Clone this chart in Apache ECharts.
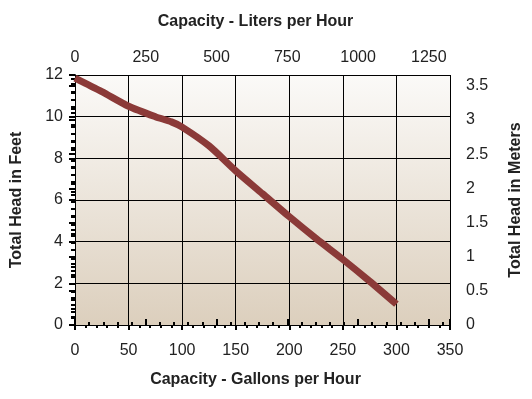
<!DOCTYPE html>
<html>
<head>
<meta charset="utf-8">
<script src="https://cdn.jsdelivr.net/npm/echarts@6/dist/echarts.min.js"></script>
<style>
  html, body { margin: 0; padding: 0; background: #fff; }
  #chart { width: 532px; height: 399px; }
</style>
</head>
<body>
<div id="chart"></div>
<script>
// Pump curve: capacity (gallons/hour) vs total head (feet)
const gallonsPerHour = [0, 25, 50, 75, 90, 100, 125, 150, 175, 200, 225, 250, 275, 300]
const headFeet = [11.85, 11.2, 10.5, 10.0, 9.75, 9.5, 8.6, 7.4, 6.3, 5.2, 4.15, 3.15, 2.1, 1.0]

const LITERS_PER_GALLON = 3.78541
const METERS_PER_FOOT = 0.3048
const gallonMax = 350
const feetMax = 12

const chart = echarts.init(document.getElementById('chart'))

const labelFont = { fontFamily: 'Liberation Sans', fontSize: 16, color: '#222' }
const nameFont = { fontFamily: 'Liberation Sans', fontSize: 16, fontWeight: 'bold', color: '#222' }
// horizontal axis titles sit a little left of the plot centre
const xNameFont = Object.assign({ padding: [0, 14, 0, 0] }, nameFont)
const blackLine = { show: true, lineStyle: { color: '#000', width: 1 } }
const plain = v => String(v)

const option = {
  animation: false,
  grid: {
    left: 75,
    right: 82,
    top: 75,
    bottom: 74,
    show: true,
    borderWidth: 0,
    backgroundColor: new echarts.graphic.LinearGradient(0, 0, 0, 1, [
      { offset: 0, color: '#fbfaf8' },
      { offset: 1, color: '#dccfbd' }
    ])
  },
  xAxis: [
    {
      type: 'value',
      position: 'bottom',
      min: 0,
      max: gallonMax,
      interval: 50,
      name: 'Capacity - Gallons per Hour',
      nameLocation: 'middle',
      nameGap: 47,
      nameTextStyle: xNameFont,
      axisLine: blackLine,
      axisTick: { show: true, inside: false, length: 5, lineStyle: { color: '#000', width: 2 } },
      minorTick: { show: true, splitNumber: 5, length: 3, lineStyle: { color: '#000', width: 2 } },
      splitLine: { show: true, lineStyle: { color: '#000', width: 1 } },
      axisLabel: Object.assign({ margin: 18, formatter: plain }, labelFont)
    },
    {
      type: 'value',
      position: 'top',
      min: 0,
      max: gallonMax * LITERS_PER_GALLON,
      interval: 250,
      name: 'Capacity - Liters per Hour',
      nameLocation: 'middle',
      nameGap: 45,
      nameTextStyle: xNameFont,
      axisLine: blackLine,
      axisTick: { show: true, inside: false, length: 6, lineStyle: { color: '#000', width: 2 } },
      minorTick: { show: true, splitNumber: 5, length: 3, lineStyle: { color: '#000', width: 2 } },
      splitLine: { show: false },
      axisLabel: Object.assign({ margin: 9, showMaxLabel: false, formatter: plain }, labelFont)
    }
  ],
  yAxis: [
    {
      type: 'value',
      position: 'left',
      min: 0,
      max: feetMax,
      interval: 2,
      name: 'Total Head in Feet',
      nameLocation: 'middle',
      nameGap: 50,
      nameTextStyle: nameFont,
      axisLine: blackLine,
      axisTick: { show: true, inside: false, length: 6, lineStyle: { color: '#000', width: 2 } },
      minorTick: { show: true, splitNumber: 5, length: 4, lineStyle: { color: '#000', width: 2 } },
      splitLine: { show: true, lineStyle: { color: '#000', width: 1 } },
      axisLabel: Object.assign({ margin: 12, formatter: plain }, labelFont)
    },
    {
      type: 'value',
      position: 'right',
      min: 0,
      max: feetMax * METERS_PER_FOOT,
      interval: 0.5,
      name: 'Total Head in Meters',
      nameLocation: 'middle',
      nameGap: 58,
      nameTextStyle: nameFont,
      axisLine: blackLine,
      axisTick: { show: true, inside: true, length: 6, lineStyle: { color: '#000', width: 2 } },
      minorTick: { show: true, splitNumber: 5, length: 4, lineStyle: { color: '#000', width: 2 } },
      splitLine: { show: false },
      axisLabel: Object.assign({ margin: 16, showMaxLabel: false, formatter: plain }, labelFont)
    }
  ],
  series: [
    {
      type: 'line',
      xAxisIndex: 0,
      yAxisIndex: 0,
      data: gallonsPerHour.map((g, i) => [g, headFeet[i]]),
      smooth: 0.25,
      symbol: 'none',
      lineStyle: { color: '#8b3a38', width: 7 }
    }
  ]
}

chart.setOption(option)
</script>
</body>
</html>
